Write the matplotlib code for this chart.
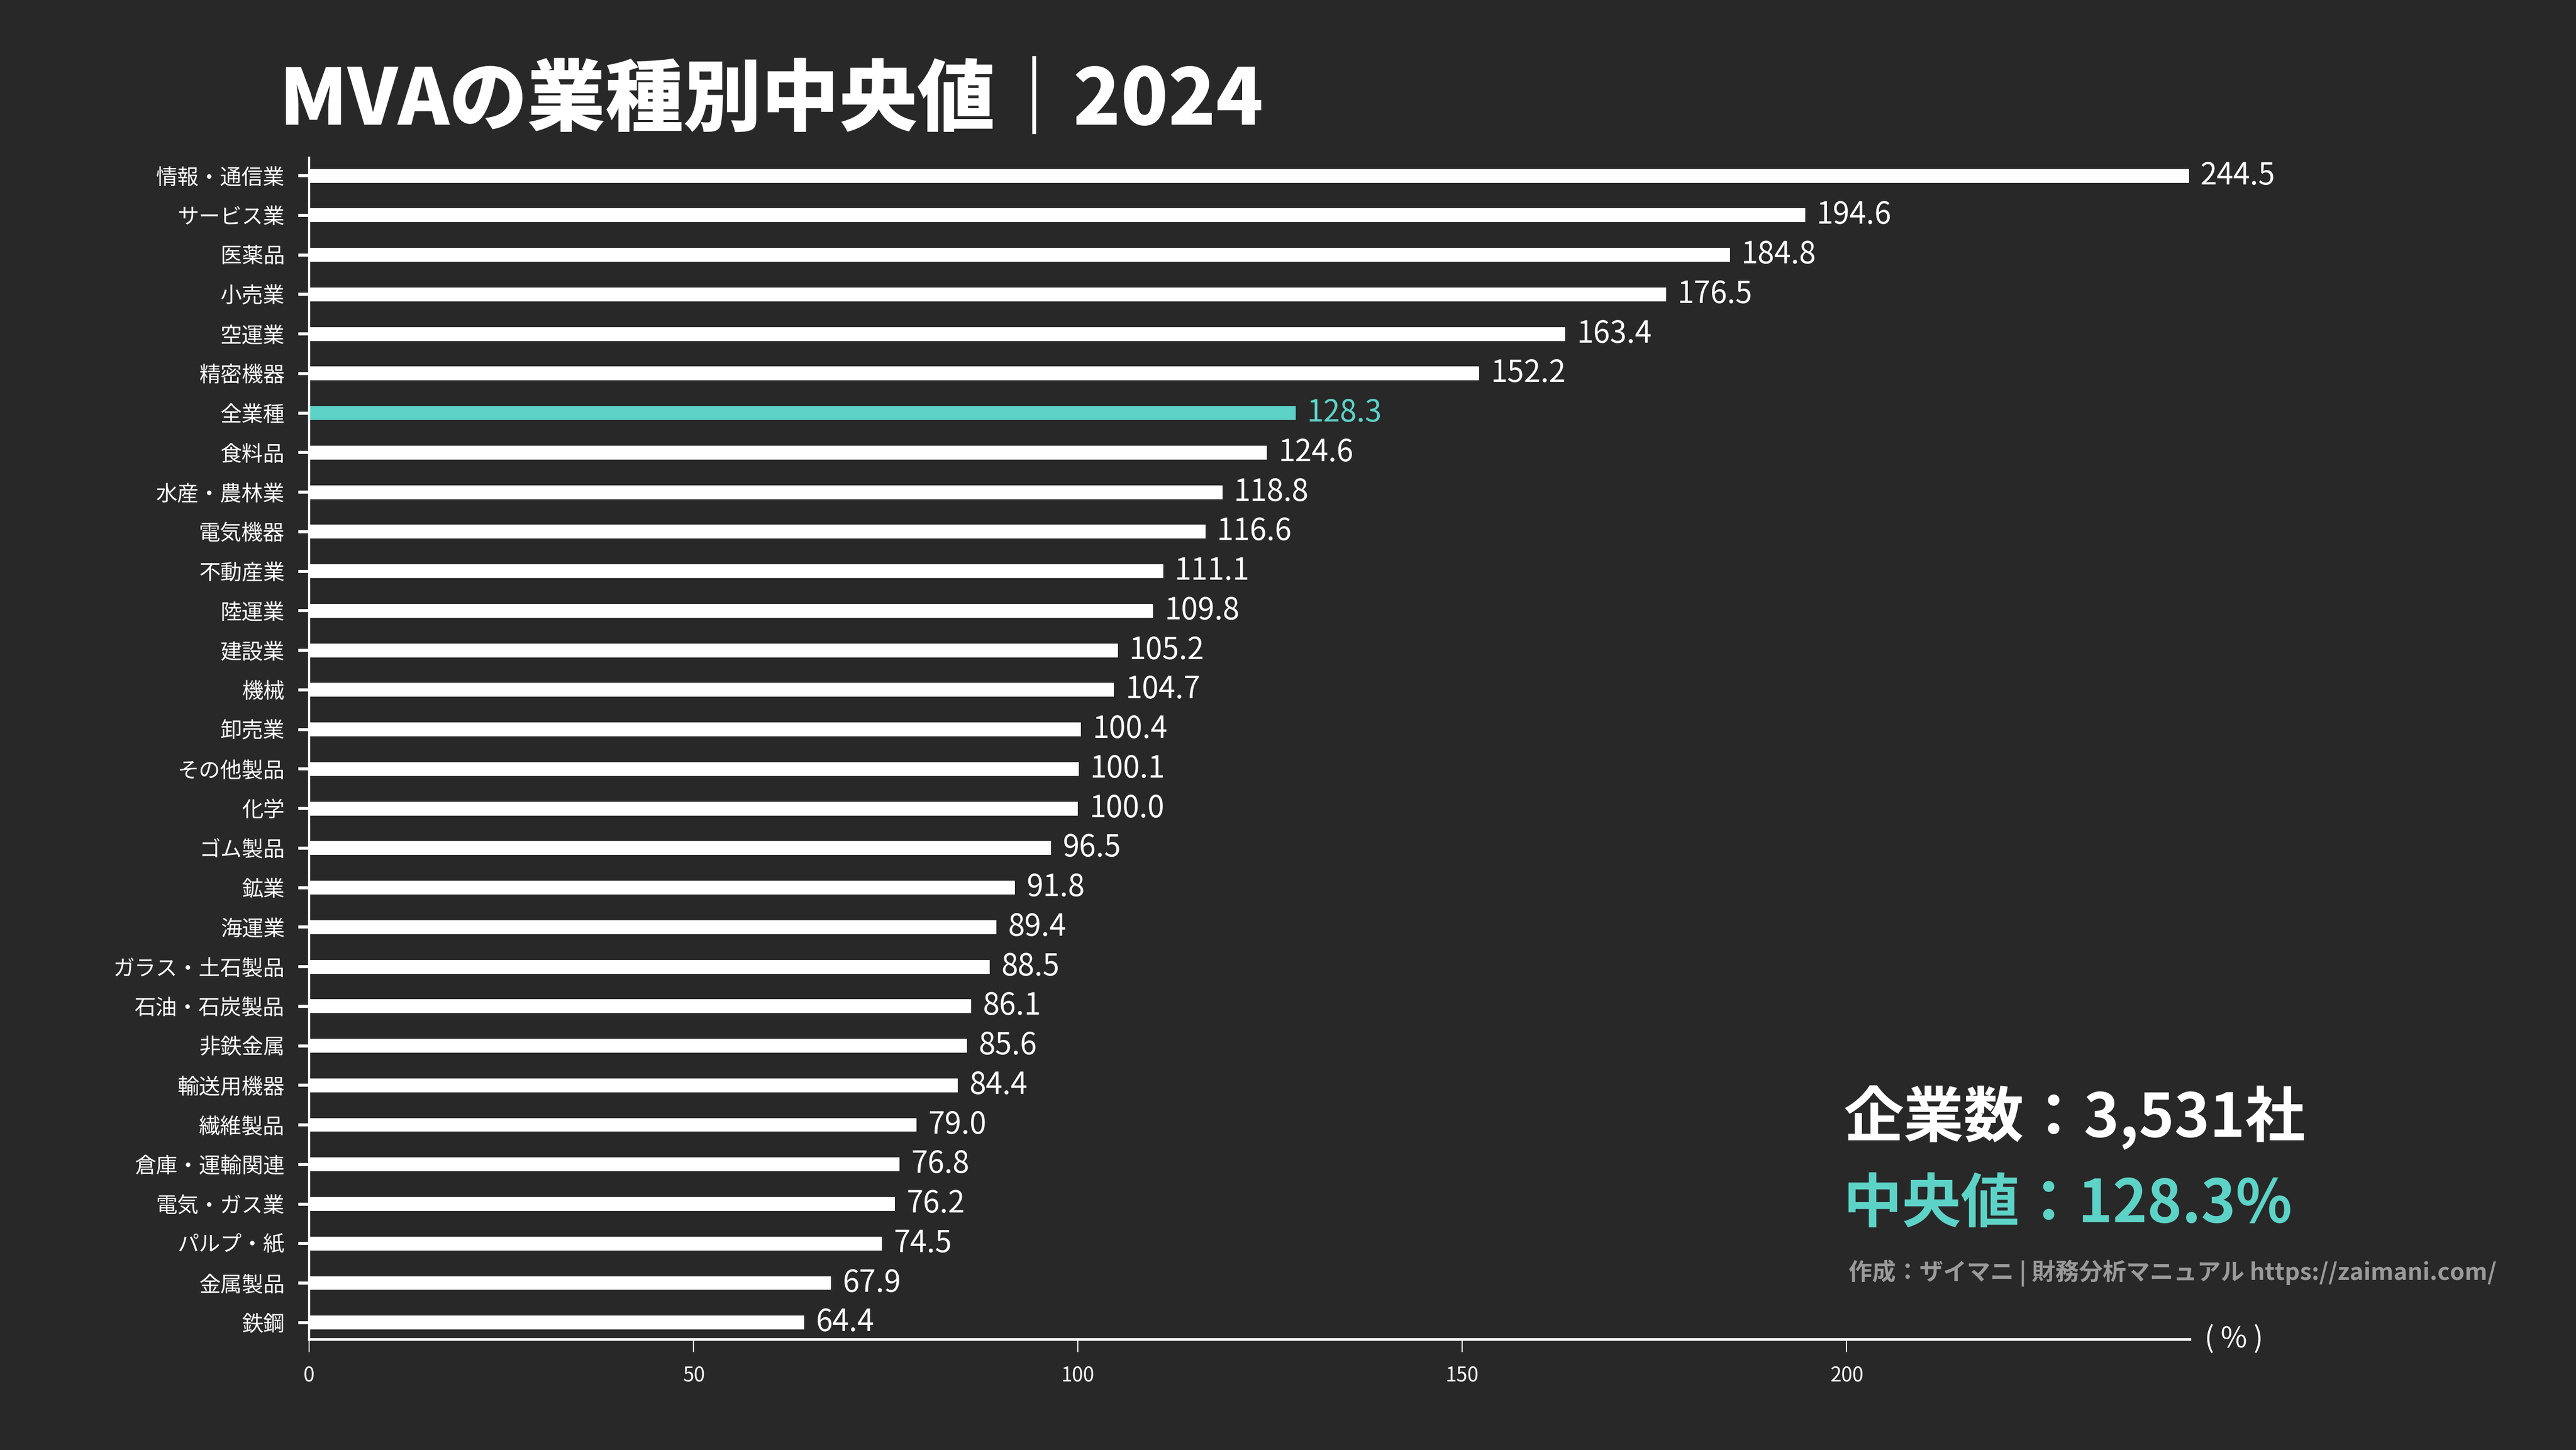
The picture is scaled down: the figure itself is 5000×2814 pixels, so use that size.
import numpy as np
import matplotlib
matplotlib.use("Agg")
import matplotlib.pyplot as plt

plt.rcParams['font.family'] = ['Noto Sans CJK JP', 'DejaVu Sans']

# 業種とMVA中央値(%)
industries = ['情報・通信業', 'サービス業', '医薬品', '小売業', '空運業', '精密機器', '全業種',
              '食料品', '水産・農林業', '電気機器', '不動産業', '陸運業', '建設業', '機械',
              '卸売業', 'その他製品', '化学', 'ゴム製品', '鉱業', '海運業', 'ガラス・土石製品',
              '石油・石炭製品', '非鉄金属', '輸送用機器', '繊維製品', '倉庫・運輸関連',
              '電気・ガス業', 'パルプ・紙', '金属製品', '鉄鋼']
values = [244.5, 194.6, 184.8, 176.5, 163.4, 152.2, 128.3, 124.6, 118.8, 116.6, 111.1,
          109.8, 105.2, 104.7, 100.4, 100.1, 100.0, 96.5, 91.8, 89.4, 88.5, 86.1, 85.6,
          84.4, 79.0, 76.8, 76.2, 74.5, 67.9, 64.4]
xticks = [0, 50, 100, 150, 200]
highlight = '全業種'
n_companies = 3531
median_all = 128.3

bg = '#282828'
teal = '#5DD3C8'

fig = plt.figure(figsize=(50, 28.14), dpi=100, facecolor=bg)
ax = fig.add_axes([0.12, 0.0764, 0.73, 0.8149])
ax.set_facecolor(bg)

y = np.arange(len(industries))
colors = [teal if c == highlight else 'white' for c in industries]
ax.barh(y, values, height=0.35, color=colors, edgecolor='none')

for yi, v, c in zip(y, values, colors):
    ax.text(v + 1.5, yi, f'{v:.1f}', color=c, fontsize=42, va='center', ha='left')

ax.set_ylim(len(industries) - 0.58, -0.46)
ax.set_xlim(0, 244.6)
ax.set_yticks(y)
ax.set_yticklabels(industries, fontsize=30, color='white')
ax.set_xticks(xticks)
ax.set_xticklabels([str(t) for t in xticks], fontsize=28, color='white')

ax.tick_params(axis='y', length=15, width=4.3, color='white', pad=19)
ax.tick_params(axis='x', length=18, width=1.6, color='white', pad=19)

for s in ['top', 'right']:
    ax.spines[s].set_visible(False)
ax.spines['left'].set_color('white')
ax.spines['left'].set_linewidth(3)
ax.spines['bottom'].set_color('white')
ax.spines['bottom'].set_linewidth(3.8)

ax.text(1.008, 0.0, '( % )', transform=ax.transAxes, fontsize=40, color='white',
        va='center', ha='left')

fig.text(0.1084, 0.93, 'MVAの業種別中央値｜2024', fontsize=109, fontweight='black',
         color='white', va='center', ha='left')

fig.text(0.7156, 0.229, f'企業数：{n_companies:,}社', fontsize=84, fontweight='bold',
         color='white', va='center', ha='left')
fig.text(0.7156, 0.169, f'中央値：{median_all}%', fontsize=82, fontweight='bold',
         color=teal, va='center', ha='left')
fig.text(0.7176, 0.122, '作成：ザイマニ | 財務分析マニュアル https://zaimani.com/', fontsize=33,
         fontweight='bold', color='#9a9a9a', va='center', ha='left')

fig.savefig('out.png', dpi=100, facecolor=bg)
